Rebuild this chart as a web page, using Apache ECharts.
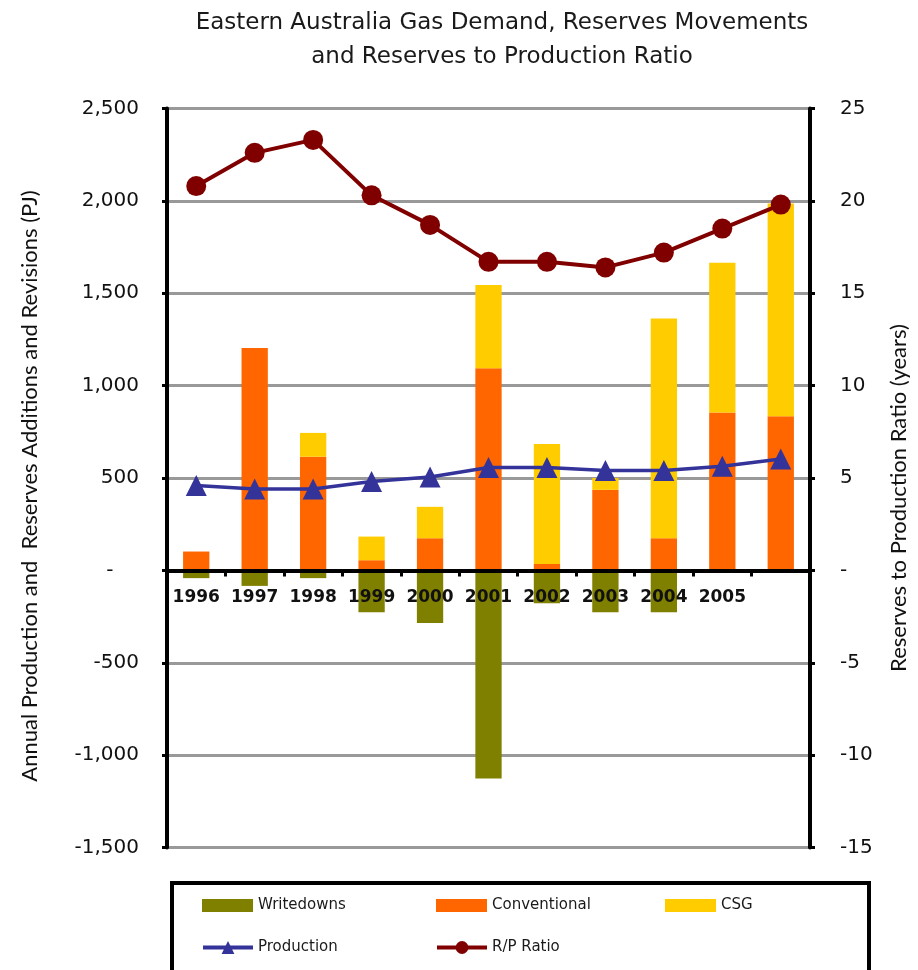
<!DOCTYPE html>
<html>
<head>
<meta charset="utf-8">
<script src="https://cdn.jsdelivr.net/npm/echarts@6/dist/echarts.min.js"></script>
<style>
html,body{margin:0;padding:0;background:#ffffff;}
#chart{width:918px;height:970px;}
</style>
</head>
<body>
<div id="chart"></div>
<script>
// ---- data ----
const categories   = ['1996','1997','1998','1999','2000','2001','2002','2003','2004','2005','2006'];
const writedowns   = [-42, -84, -42, -227, -285, -1126, -178, -227, -227, null, null];
const conventional = [102, 1204, 615, 55, 174, 1094, 35, 436, 174, 854, 834];
const csg          = [null, null, 129, 128, 170, 450, 649, 64, 1189, 811, 1152];
const production   = [460, 440, 440, 481, 505, 557, 557, 541, 541, 563, 603];
const rpRatio      = [20.8, 22.6, 23.3, 20.3, 18.7, 16.7, 16.7, 16.4, 17.2, 18.5, 19.8];
const leftAxisTicks  = { min: -1500, max: 2500, interval: 500 };
const rightAxisTicks = { min: -15, max: 25, interval: 5 };
const titleLines = ['Eastern Australia Gas Demand, Reserves Movements', 'and Reserves to Production Ratio'];
const leftAxisName  = 'Annual Production and  Reserves Additions and Revisions (PJ)';
const rightAxisName = 'Reserves to Production Ratio (years)';

const COL = { wd: '#808000', conv: '#FF6600', csg: '#FFCC00', prod: '#333399', rp: '#800000' };
const FONT = "'DejaVu Sans', Verdana, sans-serif";
const NAMEFONT = "Lato, 'Noto Sans', sans-serif";

const W = 918, H = 970;
const GRID = { left: 167, right: 106, top: 108.5, bottom: 122.5 };
// place the category axis where the left value axis is zero
const plotH = H - GRID.top - GRID.bottom;
const zeroOffset = -plotH * (0 - leftAxisTicks.min) / (leftAxisTicks.max - leftAxisTicks.min);

const chart = echarts.init(document.getElementById('chart'), null, { renderer: 'canvas' });

function legendItem(name, left, top, w, h, isBar) {
  const l = {
    data: [name], left: left, top: top, padding: 0,
    itemWidth: w, itemHeight: h, selectedMode: false,
    textStyle: { fontFamily: FONT, fontSize: 15, color: '#1a1a1a' }
  };
  if (isBar) { l.icon = 'rect'; } else { l.lineStyle = { width: 4 }; }
  return l;
}

const option = {
  backgroundColor: '#ffffff',
  animation: false,
  title: {
    text: titleLines.join('\n'),
    left: 497, top: 1, textAlign: 'center',
    textStyle: { fontFamily: FONT, fontSize: 23, fontWeight: 'normal', color: '#1a1a1a', lineHeight: 34 }
  },
  legend: [
    legendItem('Writedowns', 202, 898, 51, 13, true),
    legendItem('Conventional', 436, 898, 51, 13, true),
    legendItem('CSG', 665, 898, 51, 13, true),
    legendItem('Production', 201, 940, 50, 16, false),
    legendItem('R/P Ratio', 435, 940, 50, 16, false)
  ],
  graphic: [{
    type: 'rect', z: 100,
    shape: { x: 172, y: 883, width: 697, height: 120 },
    style: { fill: 'none', stroke: '#000', lineWidth: 4 }
  }],
  grid: { left: GRID.left, right: GRID.right, top: GRID.top, bottom: GRID.bottom, containLabel: false },
  xAxis: {
    type: 'category', data: categories, boundaryGap: true, z: 10,
    position: 'bottom', offset: zeroOffset,
    axisLine: { onZero: false, lineStyle: { color: '#000', width: 4 } },
    axisTick: { show: true, length: 6, interval: function (i) { return i > 0; }, lineStyle: { color: '#000', width: 3 } },
    axisLabel: {
      interval: function (i) { return i < 10; }, margin: 19,
      fontFamily: FONT, fontSize: 17, fontWeight: 'bold', color: '#111'
    },
    splitLine: { show: false }
  },
  yAxis: [{
    type: 'value', position: 'left',
    min: leftAxisTicks.min, max: leftAxisTicks.max, interval: leftAxisTicks.interval,
    name: leftAxisName, nameLocation: 'middle', nameGap: 126, nameRotate: 90,
    nameTextStyle: { fontFamily: NAMEFONT, fontSize: 22, color: '#111', padding: [0, 16, 0, 0] },
    axisLine: { show: true, onZero: false, lineStyle: { color: '#000', width: 4 } },
    axisTick: { show: true, length: 5, lineStyle: { color: '#000', width: 3 } },
    axisLabel: {
      margin: 28, fontFamily: FONT, fontSize: 20, color: '#111',
      formatter: function (v) { return v === 0 ? '-    ' : v.toLocaleString('en-US'); }
    },
    splitLine: { show: true, lineStyle: { color: '#999999', width: 3 } }
  }, {
    type: 'value', position: 'right',
    min: rightAxisTicks.min, max: rightAxisTicks.max, interval: rightAxisTicks.interval,
    name: rightAxisName, nameLocation: 'middle', nameGap: 78, nameRotate: 90,
    nameTextStyle: { fontFamily: NAMEFONT, fontSize: 22, color: '#111', padding: [0, 40, 0, 0] },
    axisLine: { show: true, onZero: false, lineStyle: { color: '#000', width: 4 } },
    axisTick: { show: true, length: 5, lineStyle: { color: '#000', width: 3 } },
    axisLabel: {
      margin: 30, fontFamily: FONT, fontSize: 20, color: '#111',
      formatter: function (v) { return v === 0 ? '-' : String(v); }
    },
    splitLine: { show: false }
  }],
  series: [
    { name: 'Writedowns', type: 'bar', stack: 'res', data: writedowns, barWidth: '45%',
      itemStyle: { color: COL.wd }, z: 2 },
    { name: 'Conventional', type: 'bar', stack: 'res', data: conventional, barWidth: '45%',
      itemStyle: { color: COL.conv }, z: 2 },
    { name: 'CSG', type: 'bar', stack: 'res', data: csg, barWidth: '45%',
      itemStyle: { color: COL.csg }, z: 2 },
    { name: 'Production', type: 'line', data: production, yAxisIndex: 0,
      symbol: 'triangle', symbolSize: 21, z: 5,
      itemStyle: { color: COL.prod }, lineStyle: { color: COL.prod, width: 3.5 } },
    { name: 'R/P Ratio', type: 'line', data: rpRatio, yAxisIndex: 1,
      symbol: 'circle', symbolSize: 20, z: 5,
      itemStyle: { color: COL.rp }, lineStyle: { color: COL.rp, width: 4 } }
  ]
};
chart.setOption(option);
</script>
</body>
</html>
